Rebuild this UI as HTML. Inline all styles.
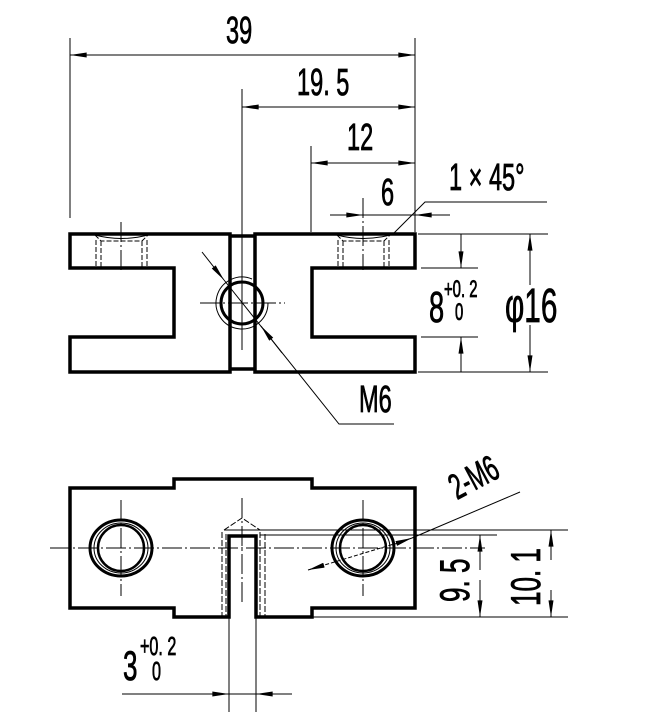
<!DOCTYPE html>
<html><head><style>body{margin:0;background:#fff}svg{display:block}</style></head><body>
<svg width="653" height="722" viewBox="0 0 653 722" xmlns="http://www.w3.org/2000/svg" font-family="Liberation Sans, sans-serif">
<defs>
<marker id="a" viewBox="0 0 20 6" refX="20" refY="3" markerWidth="18" markerHeight="5" markerUnits="userSpaceOnUse" orient="auto"><path d="M0,0L20,3L0,6z" fill="#000"/></marker>
<marker id="s" viewBox="0 0 20 6" refX="0" refY="3" markerWidth="18" markerHeight="5" markerUnits="userSpaceOnUse" orient="auto"><path d="M20,0L0,3L20,6z" fill="#000"/></marker>
</defs>
<g fill="none" stroke="#000">
<!-- top view -->
<g stroke-width="3.5">
<path d="M70,234H230V372H70V337H174V268H70Z"/>
<path d="M415,234H255V372H415V337H312V268H415Z"/>
<path d="M230,236H255M230,369H255"/>
</g>
<g stroke-width="1">
<path d="M95,235Q121,242 148,235M337,235Q363,242 390,235"/>
<g stroke-dasharray="5,2">
<path d="M95,235L101,241H142L148,235M96,240V268M101,241V268M142,241V268M147,240V268"/>
<path d="M337,235L343,241H384L390,235M338,240V268M343,241V268M384,241V268M389,240V268"/>
</g>
<path d="M121,222V270M363,198V270M200,303H285" stroke-dasharray="20,3,2,3"/>
<path d="M242,89V350"/>
<circle cx="242" cy="303" r="21" stroke-width="3"/>
<path d="M268,303A26,26 0 1 1 252,279"/>
<!-- dimensions top -->
<path d="M70,38V218M415,38V232M311,146V232"/>
<path d="M70,55H415" marker-start="url(#s)" marker-end="url(#a)"/>
<path d="M242,107H415" marker-start="url(#s)" marker-end="url(#a)"/>
<path d="M311,163H415" marker-start="url(#s)" marker-end="url(#a)"/>
<path d="M330,215H363" marker-end="url(#a)"/>
<path d="M450,215H415" marker-end="url(#a)"/>
<path d="M363,215H415"/>
<path d="M393,234L425,202H547"/>
<path d="M202,252L224,280" marker-end="url(#a)"/>
<path d="M224,280L339,424H394"/>
<path d="M282,353L261,326" marker-end="url(#a)"/>
<!-- right dims top -->
<path d="M418,234H548M421,268H478M421,337H478M418,372H548"/>
<path d="M461,234V268" marker-end="url(#a)"/>
<path d="M461,372V337" marker-end="url(#a)"/>
<path d="M530,285V234" marker-end="url(#a)"/>
<path d="M530,325V372" marker-end="url(#a)"/>
</g>
<!-- bottom view -->
<g stroke-width="3.5">
<path d="M70,488H174V479H312V488H415V608H312V617H256V536H229V617H174V608H70Z"/>
</g>
<g stroke-width="1">
<path d="M50,548H485M121,500V596M363,500V596M242,498V605" stroke-dasharray="20,3,2,3"/>
<ellipse cx="121" cy="548" rx="31" ry="28" stroke-width="3"/>
<ellipse cx="121" cy="548" rx="27" ry="25"/>
<circle cx="121" cy="548" r="23" stroke-width="2.5"/>
<ellipse cx="363" cy="548" rx="31" ry="28" stroke-width="3"/>
<ellipse cx="363" cy="548" rx="27" ry="25"/>
<circle cx="363" cy="548" r="23" stroke-width="2.5"/>
<g stroke-dasharray="6,2"><path d="M224,530L242,518L260,530M222,532V617M226,534V617M260,532V617M265,534V617"/></g>
<path d="M224,530H568M260,535H497M312,617H568"/>
<path d="M480,570V535" marker-end="url(#a)"/>
<path d="M480,580V617" marker-end="url(#a)"/>
<path d="M551,560V530" marker-end="url(#a)"/>
<path d="M551,590V617" marker-end="url(#a)"/>
<path d="M308,570L394,544" stroke-dasharray="4,2" marker-start="url(#s)"/>
<path d="M392,545L412,538" marker-end="url(#a)"/>
<path d="M412,538L520,492"/>
<path d="M229,617V712M256,617V712"/>
<path d="M122,694H229" marker-end="url(#a)"/>
<path d="M292,694H256" marker-end="url(#a)"/>
<path d="M229,694H256"/>
</g>
</g>
<g fill="#000" stroke="#000" stroke-width="0.8" font-size="38">
<text transform="translate(226,43) scale(0.62,1)">39</text>
<text transform="translate(297,95) scale(0.62,1)">19. 5</text>
<text transform="translate(347,150) scale(0.62,1)">12</text>
<text transform="translate(381,205) scale(0.62,1)">6</text>
<text transform="translate(449,190) scale(0.62,1)">1 × 45°</text>
<text transform="translate(359,412) scale(0.62,1)">M6</text>
<text transform="translate(429,322) scale(0.62,1)" font-size="44">8</text>
<text transform="translate(444,297) scale(0.62,1)" font-size="24">+0. 2</text>
<text transform="translate(455,320) scale(0.62,1)" font-size="24">0</text>
<text transform="translate(505,322) scale(0.62,1)" font-size="48">φ16</text>
<text transform="translate(457,500) rotate(-28) scale(0.62,1)" font-size="36">2-M6</text>
<text transform="translate(469,602) rotate(-90) scale(0.62,1)" font-size="42">9. 5</text>
<text transform="translate(540,606) rotate(-90) scale(0.62,1)" font-size="42">10. 1</text>
<text transform="translate(123,680) scale(0.62,1)" font-size="42">3</text>
<text transform="translate(140,655) scale(0.62,1)" font-size="26">+0. 2</text>
<text transform="translate(152,680) scale(0.62,1)" font-size="26">0</text>
</g>
</svg>
</body></html>
